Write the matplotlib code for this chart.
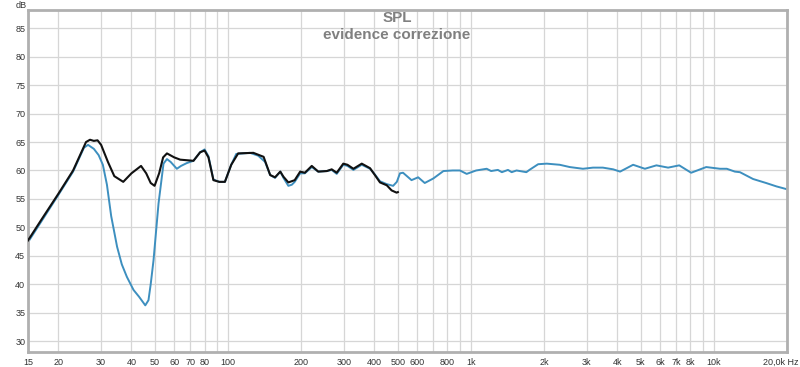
import matplotlib
matplotlib.use("Agg")
import matplotlib.pyplot as plt
from matplotlib.ticker import FixedLocator, NullFormatter
from matplotlib.transforms import ScaledTranslation

plt.rcParams["font.family"] = ["Liberation Sans", "DejaVu Sans"]

# measured response (blue), 15 Hz - 20 kHz
blue_freq = [15, 17, 20, 23, 25.5, 26.5, 28, 29.3, 30.5, 31.7, 33, 34.9, 36.5, 38.3,
             40.8, 43, 45.6, 47, 48, 49.3, 51.7, 54.2, 56, 58, 61.5, 64, 67.6, 72,
             76.7, 80, 83, 87, 92, 97, 103, 108, 123, 133, 142, 149, 156, 164, 169,
             177, 183, 188, 198, 207, 221, 235, 255, 267, 280, 298, 310, 328, 355,
             384, 402, 422, 450, 478, 495, 510, 525, 569, 606, 645, 700, 770, 840,
             900, 960, 1050, 1160, 1210, 1290, 1340, 1420, 1470, 1540, 1690, 1740,
             1890, 2050, 2320, 2550, 2890, 3180, 3490, 3850, 4110, 4650, 5200, 5800,
             6480, 7200, 8060, 9300, 10600, 11300, 12200, 12800, 14500, 16400,
             18100, 20000]
blue_db = [47.4, 51.0, 55.7, 59.8, 64.0, 64.5, 63.8, 62.7, 61.0, 57.5, 52.0, 46.6,
           43.5, 41.3, 39.0, 37.8, 36.3, 37.2, 40.0, 44.2, 54.2, 61.2, 62.0, 61.5,
           60.3, 60.8, 61.3, 61.7, 63.2, 63.7, 62.5, 58.4, 58.0, 58.0, 61.0, 62.9,
           63.1, 62.6, 61.5, 59.2, 58.7, 59.8, 58.7, 57.3, 57.5, 58.0, 59.5, 59.5,
           60.6, 59.8, 59.9, 60.1, 59.4, 61.0, 60.8, 60.1, 61.0, 60.3, 59.3, 58.1,
           57.6, 57.3, 58.0, 59.5, 59.6, 58.3, 58.8, 57.8, 58.6, 59.9, 60.0,
           60.0, 59.4, 60.0, 60.3, 59.9, 60.1, 59.7, 60.1, 59.7, 60.0, 59.7, 60.1,
           61.1, 61.2, 61.0, 60.6, 60.3, 60.5, 60.5, 60.2, 59.8, 61.0, 60.3, 60.9,
           60.5, 60.9, 59.6, 60.6, 60.3, 60.3, 59.8, 59.7, 58.5, 57.8,
           57.2, 56.7]

# corrected response (black), 15 - 500 Hz
black_freq = [15, 17, 20, 23, 26, 27, 28, 29, 30, 32, 34, 37, 40, 43.8, 46, 48,
              49.8, 52, 54, 56, 60, 63.5, 72, 76.7, 80, 83, 87, 92, 97, 103, 110,
              127, 140, 149, 156, 164, 169, 177, 188, 198, 207, 221, 235, 255, 267,
              280, 298, 310, 328, 355, 384, 402, 422, 450, 471, 494, 500]
black_db = [47.7, 51.3, 55.9, 60.0, 65.0, 65.4, 65.2, 65.3, 64.5, 61.5, 59.0, 58.0,
            59.5, 60.8, 59.5, 57.8, 57.3, 59.5, 62.3, 63.0, 62.3, 61.9, 61.7, 63.2,
            63.5, 62.3, 58.3, 58.0, 58.0, 61.0, 63.0, 63.1, 62.4, 59.2, 58.8, 59.8,
            58.9, 57.9, 58.3, 59.8, 59.6, 60.8, 59.8, 59.9, 60.2, 59.6, 61.2, 61.0,
            60.3, 61.2, 60.4, 59.2, 57.9, 57.4, 56.5, 56.1, 56.2]

x_ticks = [15, 20, 30, 40, 50, 60, 70, 80, 100, 200, 300, 400, 500, 600, 800,
           1000, 2000, 3000, 4000, 5000, 6000, 7000, 8000, 10000, 20000]
x_labels = ["15", "20", "30", "40", "50", "60", "70", "80", "100", "200", "300",
            "400", "500", "600", "800", "1k", "2k", "3k", "4k", "5k", "6k", "7k",
            "8k", "10k", "20,0k Hz"]
y_ticks = list(range(30, 90, 5))

fig = plt.figure(figsize=(8, 3.67), dpi=100)
ax = fig.add_axes([28 / 800, 1 - 352 / 367, 759 / 800, 342 / 367])

grid_x = [f * m for m in (10, 100, 1000) for f in range(1, 10)] + [10000, 20000]
grid_x = [g for g in grid_x if 15 <= g <= 20000] + [15]
for g in grid_x:
    ax.axvline(g, color="#d6d6d6", lw=0.9, zorder=0)
for g in y_ticks:
    ax.axhline(g, color="#d6d6d6", lw=0.9, zorder=0)

ax.plot(blue_freq, blue_db, color="#3d8fbf", lw=1.4, zorder=2)
ax.plot(black_freq, black_db, color="#111111", lw=1.5, zorder=3)

ax.set_xscale("log")
ax.set_xlim(15, 20000)
ax.set_ylim(28.1, 88.2)
ax.xaxis.set_major_locator(FixedLocator(x_ticks))
ax.xaxis.set_minor_formatter(NullFormatter())
ax.xaxis.set_minor_locator(FixedLocator([]))
ax.set_xticklabels(x_labels)
ax.set_yticks(y_ticks)
ax.tick_params(length=0, labelsize=6.5, colors="#333333", pad=4)
ax.tick_params(axis="y", pad=2)

# last label sits left of its tick so "Hz" stays inside the picture
last = ax.get_xticklabels()[-1]
last.set_transform(last.get_transform() + ScaledTranslation(-0.06, 0, fig.dpi_scale_trans))

for s in ax.spines.values():
    s.set_color("#b0b0b0")
    s.set_linewidth(2)

fig.text(16 / 800, 1 - 5 / 367, "dB", fontsize=6.5, color="#333333", va="center")
fig.text(397 / 800, 1 - 18 / 367, "SPL", fontsize=11, color="#808080",
         fontweight="bold", ha="center", va="center")
fig.text(397 / 800, 1 - 35 / 367, "evidence correzione", fontsize=11,
         color="#808080", fontweight="bold", ha="center", va="center")

fig.savefig("out.png", dpi=100, facecolor="white")
